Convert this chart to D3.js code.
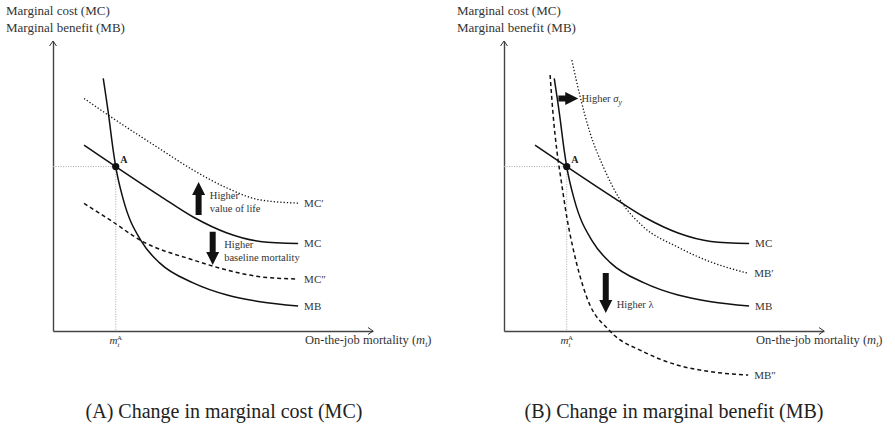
<!DOCTYPE html>
<html><head><meta charset="utf-8">
<script src="https://cdn.jsdelivr.net/npm/d3@7"></script>
<style>
body{margin:0;background:#fff}
svg{display:block}
</style>
</head><body><svg id="c" width="895" height="426" font-family="Liberation Serif, Times New Roman, serif"></svg>
<script>
// ---- data (abstract units: mortality 0..10, value 0..10) ----
const pointA = [1.96, 5.67];
const mbCurve = [[1.57,8.71],[1.73,7.51],[1.88,6.24],[1.96,5.67],[2.20,4.52],[2.77,3.08],[3.34,2.34],[4.38,1.66],[5.44,1.24],[6.47,1.01],[7.66,0.86]];
const mcCurve = [[0.97,6.41],[1.96,5.67],[3.34,4.66],[4.38,3.93],[5.44,3.38],[6.47,3.09],[7.66,3.02]];
const mcPrime = [[0.97,8.02],[1.72,7.45],[3.34,6.28],[4.38,5.55],[5.44,4.93],[6.47,4.52],[7.66,4.41]];
const mcDoublePrime = [[0.97,4.40],[1.78,3.83],[2.81,3.08],[4.38,2.45],[5.44,2.10],[6.47,1.87],[7.66,1.79]];
const mbPrime = [[2.12,9.34],[2.38,8.08],[2.69,6.83],[3.10,5.67],[3.63,4.52],[4.35,3.60],[5.40,2.91],[6.44,2.39],[7.63,1.99]];
const mbDoublePrime = [[1.44,8.83],[1.54,7.39],[1.65,6.24],[1.80,5.09],[1.96,3.94],[2.17,2.79],[2.58,1.18],[3.31,0.00],[4.35,-0.71],[5.40,-1.17],[6.44,-1.40],[7.63,-1.52]];
const labelsA = ["MC′","MC","MC″","MB"];
const labelsB = ["MC","MB′","MB","MB″"];
const yTitle = ["Marginal cost (MC)","Marginal benefit (MB)"];
const captions = ["(A) Change in marginal cost (MC)","(B) Change in marginal benefit (MB)"];

// ---- scales ----
const x = d3.scaleLinear().domain([0,10]).range([53,373]);
const y = d3.scaleLinear().domain([0,10]).range([331,41]);
const line = d3.line().x(d=>x(d[0])).y(d=>y(d[1])).curve(d3.curveMonotoneX);
const svg = d3.select("#c");
const TXT = "#333";

function arrow(g, x1, y1, x2, y2){
  const dx=x2-x1, dy=y2-y1, L=Math.hypot(dx,dy), ux=dx/L, uy=dy/L, px=-uy, py=ux;
  const sw=3, hw=6.5, hl=13;
  const bx=x2-ux*hl, by=y2-uy*hl;
  const pts=[[x1+px*sw,y1+py*sw],[bx+px*sw,by+py*sw],[bx+px*hw,by+py*hw],[x2,y2],[bx-px*hw,by-py*hw],[bx-px*sw,by-py*sw],[x1-px*sw,y1-py*sw]];
  g.append("path").attr("d","M"+pts.map(p=>p.join(",")).join("L")+"Z").attr("fill","#111");
}

function panel(offset, curves, labels, idx){
  const g = svg.append("g").attr("transform",`translate(${offset},0)`).attr("fill",TXT);
  // titles
  g.append("text").attr("x",6).attr("y",15).attr("font-size",13).text(yTitle[0]);
  g.append("text").attr("x",6).attr("y",32).attr("font-size",13).text(yTitle[1]);
  // axes
  const ax = g.append("g");
  ax.append("g").attr("transform",`translate(0,${y(0)})`).call(d3.axisBottom(x).tickValues([]).tickSizeOuter(0));
  ax.append("g").attr("transform",`translate(${x(0)},0)`).call(d3.axisLeft(y).tickValues([]).tickSizeOuter(0));
  ax.selectAll(".domain").attr("stroke","#444").attr("stroke-width",1.4);
  ax.append("path").attr("d",`M${x(10)-5},${y(0)-3.5}L${x(10)},${y(0)}L${x(10)-5},${y(0)+3.5}`).attr("fill","none").attr("stroke","#333").attr("stroke-width",1);
  ax.append("path").attr("d",`M${x(0)-3.5},${y(10)+5}L${x(0)},${y(10)}L${x(0)+3.5},${y(10)+5}`).attr("fill","none").attr("stroke","#333").attr("stroke-width",1);
  // guide lines
  g.append("path").attr("d",`M${x(0)},${y(pointA[1])}H${x(pointA[0])}V${y(0)}`).attr("fill","none").attr("stroke","#aaa").attr("stroke-width",1).attr("stroke-dasharray","1,1.5");
  // curves
  curves.forEach(c=>{
    const p = g.append("path").attr("d",line(c.data)).attr("fill","none").attr("stroke","#111").attr("stroke-width",c.dash==="dot"?1.3:1.5);
    if(c.dash==="dot") p.attr("stroke-dasharray","1.3,2");
    if(c.dash==="dash") p.attr("stroke-dasharray","4,3");
  });
  // curve labels
  labels.forEach(lab=>{
    const c = curves.find(cc=>cc.label===lab);
    const last = c.data[c.data.length-1];
    g.append("text").attr("x",x(last[0])+6).attr("y",y(last[1])).attr("dy","0.35em").attr("font-size",11).text(lab);
  });
  // point A
  g.append("circle").attr("cx",x(pointA[0])).attr("cy",y(pointA[1])).attr("r",3.6).attr("fill","#111");
  g.append("text").attr("x",x(pointA[0])+4.5).attr("y",y(pointA[1])-3.5).attr("font-size",10).attr("font-weight","bold").attr("fill","#222").text("A");
  // m_t^A
  const mt = g.append("text").attr("x",x(pointA[0])).attr("y",344).attr("text-anchor","middle").attr("font-size",11);
  mt.append("tspan").attr("font-style","italic").text("m");
  mt.append("tspan").attr("font-size",7).attr("dy",2.5).attr("font-style","italic").text("t");
  mt.append("tspan").attr("font-size",7).attr("dx",-2.5).attr("dy",-7).text("A");
  // x-axis title
  const xt = g.append("text").attr("x",305).attr("y",344).attr("font-size",12.5);
  xt.append("tspan").text("On-the-job mortality (");
  xt.append("tspan").attr("font-style","italic").text("m");
  xt.append("tspan").attr("font-size",8).attr("dy",2.5).attr("font-style","italic").text("t");
  xt.append("tspan").attr("dy",-2.5).text(")");
  // caption
  g.append("text").attr("x",idx===0?224:223).attr("y",418).attr("text-anchor","middle").attr("font-size",20).attr("fill","#222").text(captions[idx]);
  return g;
}

// Panel A
const gA = panel(0, [
  {label:"MC′", data:mcPrime, dash:"dot"},
  {label:"MC", data:mcCurve, dash:null},
  {label:"MC″", data:mcDoublePrime, dash:"dash"},
  {label:"MB", data:mbCurve, dash:null}
], labelsA, 0);
arrow(gA, x(4.55), y(4.00), x(4.55), y(5.14));
gA.append("text").attr("x",x(4.9)).attr("y",y(4.55)).attr("font-size",10.5).text("Higher");
gA.append("text").attr("x",x(4.9)).attr("y",y(4.09)).attr("font-size",10.5).text("value of life");
arrow(gA, x(4.99), y(3.42), x(4.99), y(2.28));
gA.append("text").attr("x",x(5.35)).attr("y",y(2.85)).attr("font-size",10.5).text("Higher");
gA.append("text").attr("x",x(5.35)).attr("y",y(2.42)).attr("font-size",10.5).text("baseline mortality");

// Panel B
const gB = panel(451, [
  {label:"MC", data:mcCurve, dash:null},
  {label:"MB′", data:mbPrime, dash:"dot"},
  {label:"MB", data:mbCurve, dash:null},
  {label:"MB″", data:mbDoublePrime, dash:"dash"}
], labelsB, 1);
arrow(gB, x(1.70), y(8.02), x(2.32), y(8.02));
const ts = gB.append("text").attr("x",x(2.42)).attr("y",y(8.02)).attr("dy","0.35em").attr("font-size",10.5);
ts.append("tspan").text("Higher ");
ts.append("tspan").attr("font-style","italic").text("σ");
ts.append("tspan").attr("font-size",7.5).attr("dy",2.5).attr("font-style","italic").text("y");
arrow(gB, x(3.18), y(2.0), x(3.18), y(0.62));
const tl = gB.append("text").attr("x",x(3.52)).attr("y",y(0.93)).attr("dy","0.35em").attr("font-size",10.5);
tl.append("tspan").text("Higher ");
tl.append("tspan").text("λ");
</script></body></html>
